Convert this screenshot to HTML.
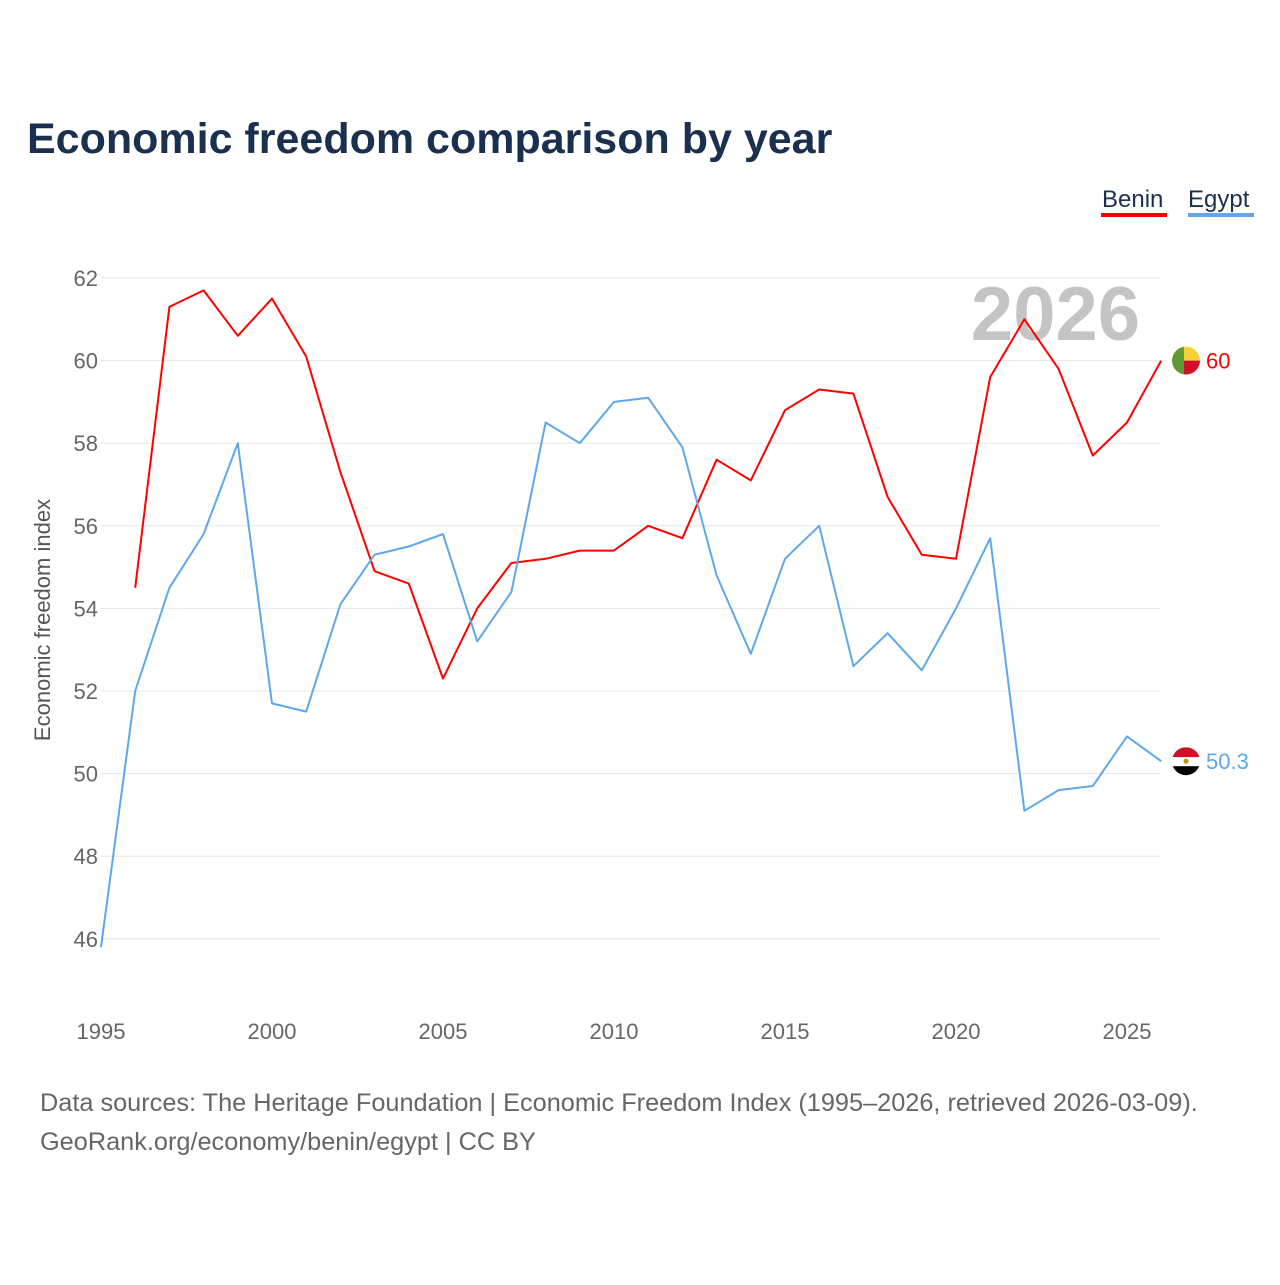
<!DOCTYPE html>
<html><head><meta charset="utf-8"><style>
body{margin:0;background:#fff;font-family:"Liberation Sans",sans-serif}
</style></head><body>
<svg width="1280" height="1280" xmlns="http://www.w3.org/2000/svg" id="chart" font-family="Liberation Sans, sans-serif">
<rect width="1280" height="1280" fill="#fff"/>
<text x="27" y="153" font-size="43" font-weight="bold" fill="#1b2f4e">Economic freedom comparison by year</text>
<g>
<text x="1102" y="207" font-size="24" fill="#1b2f4e">Benin</text>
<rect x="1101" y="213" width="66" height="4" fill="#ff0000"/>
<text x="1188" y="207" font-size="24" fill="#1b2f4e">Egypt</text>
<rect x="1188" y="213" width="66" height="4" fill="#5ea8ea"/>
</g>
<text x="1140" y="340" font-size="76" font-weight="bold" fill="#c4c4c4" text-anchor="end">2026</text>
<g id="grid"></g><g id="axes"></g><g id="lines"></g>
<text transform="translate(50,620) rotate(-90)" font-size="22" fill="#555" text-anchor="middle">Economic freedom index</text>
<text x="40" y="1111" font-size="25.3" fill="#666">Data sources: The Heritage Foundation | Economic Freedom Index (1995–2026, retrieved 2026-03-09).</text>
<text x="40" y="1150" font-size="25.3" fill="#666">GeoRank.org/economy/benin/egypt | CC BY</text>
</svg>
<script>
const years=[1995,1996,1997,1998,1999,2000,2001,2002,2003,2004,2005,2006,2007,2008,2009,2010,2011,2012,2013,2014,2015,2016,2017,2018,2019,2020,2021,2022,2023,2024,2025,2026];
const benin=[null,54.5,61.3,61.7,60.6,61.5,60.1,57.3,54.9,54.6,52.3,54.0,55.1,55.2,55.4,55.4,56.0,55.7,57.6,57.1,58.8,59.3,59.2,56.7,55.3,55.2,59.6,61.0,59.8,57.7,58.5,60.0];
const egypt=[45.8,52.0,54.5,55.8,58.0,51.7,51.5,54.1,55.3,55.5,55.8,53.2,54.4,58.5,58.0,59.0,59.1,57.9,54.8,52.9,55.2,56.0,52.6,53.4,52.5,54.0,55.7,49.1,49.6,49.7,50.9,50.3];
const yTicks=[46,48,50,52,54,56,58,60,62];
const xTicks=[1995,2000,2005,2010,2015,2020,2025];
const NS="http://www.w3.org/2000/svg";
const xS=y=>101+(y-1995)*34.2;
const yS=v=>278+(62-v)*41.3;
function mk(t,a,p){const e=document.createElementNS(NS,t);for(const k in a)e.setAttribute(k,a[k]);p.appendChild(e);return e;}
const grid=document.getElementById('grid'),axes=document.getElementById('axes'),lines=document.getElementById('lines');
yTicks.forEach(v=>{
 const l=mk('line',{x1:101,x2:1160,y1:yS(v),y2:yS(v),stroke:'#e6e6e6','stroke-width':1},grid);
 
 
 const t=mk('text',{x:98,y:yS(v)+8,'font-size':22,fill:'#666','text-anchor':'end'},axes);
 t.textContent=v;
 
 
});
xTicks.forEach(y=>{
 const t=mk('text',{x:xS(y),y:1039,'font-size':22,fill:'#666','text-anchor':'middle'},axes);
 t.textContent=y;
 
 
});
function line(data,color,name){
 const pts=[];data.forEach((v,i)=>{if(v!==null)pts.push(xS(years[i]).toFixed(1)+','+yS(v).toFixed(1));});
 const p=mk('polyline',{points:pts.join(' '),fill:'none',stroke:color,'stroke-width':2,'stroke-linejoin':'round'},lines);
 
 
 const last=data[data.length-1];
 const t=mk('text',{x:1206,y:yS(last)+8,'font-size':22,fill:color},lines);
 t.textContent=last;
 
 
}
line(benin,'#ff0000','benin');
line(egypt,'#5ea8ea','egypt');
const bx=1186,by=yS(benin[benin.length-1]);
const fb=mk('g',{},lines);


mk('clipPath',{id:'cb'},fb).appendChild(document.createElementNS(NS,'circle'));
const c1=document.querySelector('#cb circle');c1.setAttribute('cx',bx);c1.setAttribute('cy',by);c1.setAttribute('r',14);
const gb=mk('g',{'clip-path':'url(#cb)'},fb);
mk('rect',{x:bx-14,y:by-14,width:12,height:28,fill:'#5f9a32'},gb);
mk('rect',{x:bx-2,y:by-14,width:16,height:14,fill:'#f7d035'},gb);
mk('rect',{x:bx-2,y:by,width:16,height:14,fill:'#d2102c'},gb);
const ex=1186,ey=yS(egypt[egypt.length-1]);
const fe=mk('g',{},lines);


mk('clipPath',{id:'ce'},fe).appendChild(document.createElementNS(NS,'circle'));
const c2=document.querySelector('#ce circle');c2.setAttribute('cx',ex);c2.setAttribute('cy',ey);c2.setAttribute('r',14);
const ge=mk('g',{'clip-path':'url(#ce)'},fe);
mk('rect',{x:ex-14,y:ey-14,width:28,height:10,fill:'#ce1126'},ge);
mk('rect',{x:ex-14,y:ey-4,width:28,height:9,fill:'#fff'},ge);
mk('rect',{x:ex-14,y:ey+5,width:28,height:10,fill:'#000'},ge);
mk('circle',{cx:ex,cy:ey,r:2.5,fill:'#c09300'},ge);
</script>
</body></html>
